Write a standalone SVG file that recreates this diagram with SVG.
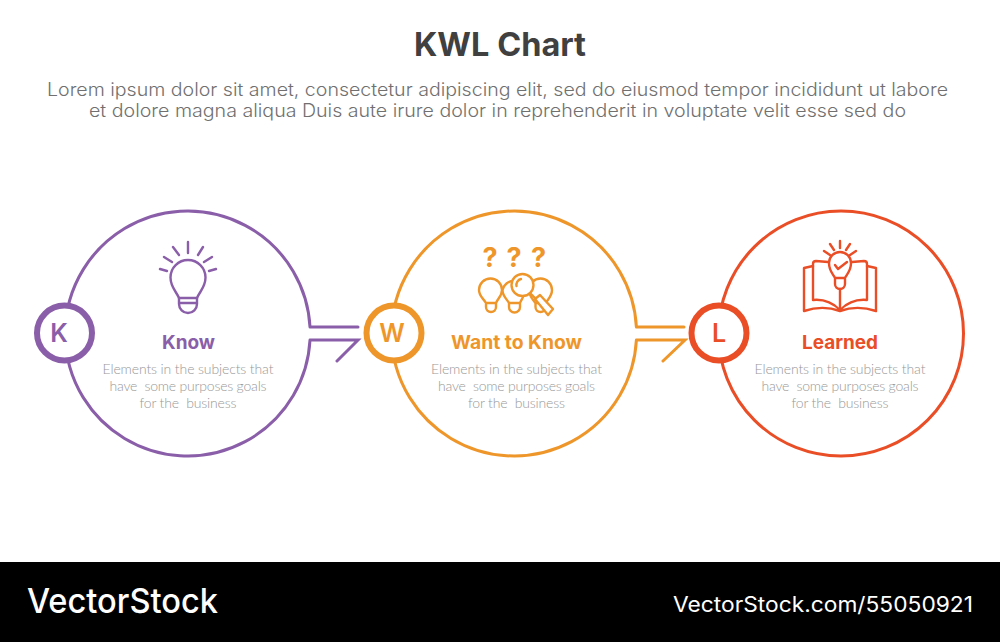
<svg xmlns="http://www.w3.org/2000/svg" width="1000" height="642" viewBox="0 0 1000 642">
<style>
.l{fill:none;stroke-linecap:round;stroke-linejoin:round}
.p{stroke:#8a5ea8}.o{stroke:#ee962a}.r{stroke:#e94e27}
.big{stroke-width:3;fill:none}
.dot{stroke-width:6;fill:#fff}
.ic{stroke-width:2.4}
.let{font:600 25px Inter,"Open Sans",sans-serif;text-anchor:middle}
.head{font:700 19px Inter,"Open Sans",sans-serif;text-anchor:middle}
.body{font:300 14px Lato,"Open Sans",sans-serif;fill:#989898;text-anchor:middle}
.sub{font:300 18px Inter,"Open Sans",sans-serif;fill:#707070;text-anchor:middle}
</style>
<rect width="1000" height="642" fill="#fff"/>
<text id="title" x="500" y="56" text-anchor="middle" textLength="172" lengthAdjust="spacingAndGlyphs" style="font:700 32px Inter,'Open Sans',sans-serif;fill:#404040">KWL Chart</text>
<text class="sub" x="497.500" y="96" textLength="901" lengthAdjust="spacingAndGlyphs">Lorem ipsum dolor sit amet, consectetur adipiscing elit, sed do eiusmod tempor incididunt ut labore</text>
<text class="sub" x="497.500" y="117" textLength="817" lengthAdjust="spacingAndGlyphs">et dolore magna aliqua Duis aute irure dolor in reprehenderit in voluptate velit esse sed do</text>
<g id="connectors" fill="none" stroke-width="3">
<path class="p" d="M310 327A122.500 122.500 0 1 0 310 340M310 327H358M310 340H358L337 361" stroke-linecap="round"/>
<path class="o" d="M636.400 327A122.500 122.500 0 1 0 636.400 340M636.400 327H684M636.400 340H685L663 361" stroke-linecap="round"/>
</g>
<g id="node-know">
<g class="l p ic">
<path d="M179 298C176 291 170.500 287 170.500 277.500A17.500 17.500 0 0 1 205.500 277.500C205.500 287 200 291 197 298Z"/>
<path d="M179 298V304A9 9 0 0 0 197 304V298M179 303H197"/>
<path d="M188 242V253M173 247 179 255M203 247 198 255M164 257 172 262M212 257 204 262M160 269 167 271M216 269 209 271"/>
</g>
<circle class="dot p" cx="64.500" cy="333" r="27.500"/>
<text class="let" x="59" y="342" fill="#8a5ea8">K</text>
<text class="head" x="188.500" y="349" textLength="53" lengthAdjust="spacingAndGlyphs" fill="#8a5ea8">Know</text>
<text class="body" x="188" y="374" textLength="171">Elements in the subjects that</text>
<text class="body" x="188" y="391" textLength="157" xml:space="preserve">have  some purposes goals</text>
<text class="body" x="188" y="408" textLength="97" xml:space="preserve">for the  business</text>
</g>
<g id="node-want">
<g class="l o ic">
<path d="M486 303C483 298 479 296 479 290A11.500 11.500 0 0 1 502 290C502 296 498 298 496 303ZM486 303V307A5 5 0 0 0 496 307V303"/>
<path d="M509 303C506 298 502.500 296 502.500 290A11.500 11.500 0 0 1 525 290C525 296 522 298 520 303ZM509 303V307A5.500 5.500 0 0 0 520 307V303"/>
<path d="M535.500 303C532 298 529 296 529 290A11.500 11.500 0 0 1 552 290C552 296 549 298 545.500 303ZM535.500 303V307A5 5 0 0 0 545.500 307V303"/>
<circle cx="522.500" cy="285" r="11" fill="#fff"/>
<path d="M516.500 286A6 6 0 0 1 521 279"/>
<path d="M530 293 535 298"/>
<path d="M535 299 540 295 553 309 548 315Z" fill="#fff"/>
</g>
<g style="font:700 27px Inter,'Open Sans',sans-serif;fill:#ee962a;text-anchor:middle"><text x="490" y="267">?</text><text x="514" y="267">?</text><text x="538.500" y="267">?</text></g>
<circle class="dot o" cx="394" cy="333" r="27.500"/>
<text class="let" x="392" y="342" fill="#ee962a">W</text>
<text class="head" x="516.500" y="349" textLength="131" lengthAdjust="spacingAndGlyphs" fill="#ee962a">Want to Know</text>
<text class="body" x="516.500" y="374" textLength="171">Elements in the subjects that</text>
<text class="body" x="516.500" y="391" textLength="157" xml:space="preserve">have  some purposes goals</text>
<text class="body" x="516.500" y="408" textLength="97" xml:space="preserve">for the  business</text>
</g>
<g id="node-learned">
<circle class="big r" cx="841" cy="333.500" r="122.500"/>
<g class="l r ic">
<path d="M828 262 816 261Q813 261 813 264V300C823 299 833 303 840 310C847 303 857 299 867 300V264Q867 261 864 261L852 262"/>
<path d="M813 266 804 268V311C816 307 829 307 840 311C851 307 864 307 876 311V268L867 266"/>
<path d="M840 289V310"/>
<path d="M835 278C833 274 829 271 829 263A11 11 0 0 1 851 263C851 271 847 274 845 278ZM835 278V284A5 5 0 0 0 845 284V278"/>
<path d="M835 265 838 269 847 262"/>
<path d="M840 241V248M830 244 834 250M850 244 846 250M824 251 830 255M856 251 850 255"/>
</g>
<circle class="dot r" cx="719" cy="333" r="27.500"/>
<text class="let" x="719" y="342" fill="#e94e27">L</text>
<text class="head" x="840" y="349" textLength="76" lengthAdjust="spacingAndGlyphs" fill="#e94e27">Learned</text>
<text class="body" x="840" y="374" textLength="171">Elements in the subjects that</text>
<text class="body" x="840" y="391" textLength="157" xml:space="preserve">have  some purposes goals</text>
<text class="body" x="840" y="408" textLength="97" xml:space="preserve">for the  business</text>
</g>
<rect id="footer" y="562" width="1000" height="80" fill="#000"/>
<text x="27" y="613" textLength="191" lengthAdjust="spacingAndGlyphs" style="font:500 34px Inter,'Open Sans',sans-serif;fill:#fff">VectorStock</text>
<text x="673" y="612" textLength="300" lengthAdjust="spacingAndGlyphs" style="font:400 21px Inter,'Open Sans',sans-serif;fill:#fff">VectorStock.com/55050921</text>
</svg>
